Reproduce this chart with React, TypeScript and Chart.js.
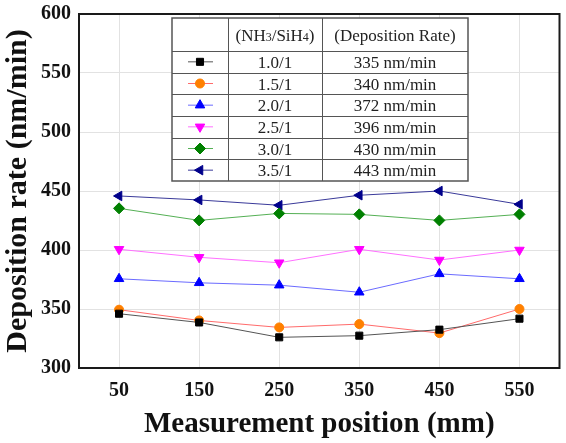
import React, { useEffect, useRef } from 'react';
import { Chart, registerables } from 'chart.js';
import { drawPoint } from 'chart.js/helpers';

Chart.register(...registerables);

const positions = [50, 150, 250, 350, 450, 550];
const xTickValues = [50, 150, 250, 350, 450, 550];
const ratioLabels = ['1.0/1', '1.5/1', '2.0/1', '2.5/1', '3.0/1', '3.5/1'];
const rateLabels = ['335 nm/min', '340 nm/min', '372 nm/min', '396 nm/min', '430 nm/min', '443 nm/min'];

const rate10 = [346, 338.6, 326, 327.4, 332.5, 341.8];
const rate15 = [349.4, 340.3, 334.4, 337.2, 329.6, 350];
const rate20 = [375.6, 372.2, 370.2, 364.2, 379.8, 375.6];
const rate25 = [400.6, 393.8, 389.2, 400.6, 391.5, 400];
const rate30 = [435.3, 425.1, 431, 430.2, 425.1, 430.2];
const rate35 = [445.8, 442.4, 437.9, 446.4, 450, 438.7];

const seriesValues = [rate10, rate15, rate20, rate25, rate30, rate35];

const seriesStyles = [
  { line: '#555555', marker: '#000000', style: 'rect', rotation: 0, radius: 5 },
  { line: '#ff6b6b', marker: '#ff8000', style: 'circle', rotation: 0, radius: 4.5 },
  { line: '#6b6bff', marker: '#0000ff', style: 'triangle', rotation: 0, radius: 5.5 },
  { line: '#ff70ff', marker: '#ff00ff', style: 'triangle', rotation: 180, radius: 5.5 },
  { line: '#55b055', marker: '#008000', style: 'rectRot', rotation: 0, radius: 5.5 },
  { line: '#3a3a9a', marker: '#00008b', style: 'triangle', rotation: -90, radius: 5.5 },
];

const SERIF = "'Liberation Serif', 'Times New Roman', serif";

const framePlugin = {
  id: 'frame',
  beforeDraw(chart: any) {
    const ctx = chart.ctx;
    ctx.save();
    ctx.fillStyle = '#ffffff';
    ctx.fillRect(0, 0, chart.width, chart.height);
    ctx.restore();
  },
  afterDraw(chart: any) {
    const ctx = chart.ctx;
    const a = chart.chartArea;
    ctx.save();
    ctx.strokeStyle = '#1a1a1a';
    ctx.lineWidth = 2;
    ctx.strokeRect(a.left, a.top, a.right - a.left, a.bottom - a.top);

    // legend table
    const x0 = 172, x1 = 228, x2 = 322, x3 = 468;
    const y0 = 18, yh = 51, y3 = 181;
    const n = ratioLabels.length;
    const rh = (y3 - yh) / n;
    ctx.fillStyle = '#ffffff';
    ctx.fillRect(x0, y0, x3 - x0, y3 - y0);
    ctx.strokeStyle = '#555555';
    ctx.lineWidth = 1;
    ctx.beginPath();
    [x1, x2].forEach((x) => {
      ctx.moveTo(x + 0.5, y0);
      ctx.lineTo(x + 0.5, y3);
    });
    for (let i = 0; i <= n - 1; i++) {
      const y = Math.round(yh + i * rh) + 0.5;
      ctx.moveTo(x0, y);
      ctx.lineTo(x3, y);
    }
    ctx.stroke();
    ctx.lineWidth = 1.5;
    ctx.strokeRect(x0, y0, x3 - x0, y3 - y0);

    ctx.fillStyle = '#222222';
    ctx.textBaseline = 'alphabetic';
    const big = `17px ${SERIF}`;
    const small = `12px ${SERIF}`;
    const parts: [string, string][] = [['(NH', big], ['3', small], ['/SiH', big], ['4', small], [')', big]];
    let total = 0;
    parts.forEach(([t, f]) => { ctx.font = f; total += ctx.measureText(t).width; });
    let cx = (x1 + x2) / 2 - total / 2;
    const hb = y0 + (yh - y0) / 2 + 6;
    ctx.textAlign = 'left';
    parts.forEach(([t, f]) => {
      ctx.font = f;
      ctx.fillText(t, cx, hb);
      cx += ctx.measureText(t).width;
    });
    ctx.font = big;
    ctx.textAlign = 'center';
    ctx.fillText('(Deposition Rate)', (x2 + x3) / 2, hb);

    for (let i = 0; i < n; i++) {
      const cy = yh + (i + 0.5) * rh;
      const st = seriesStyles[i];
      ctx.strokeStyle = st.line;
      ctx.lineWidth = 1;
      ctx.beginPath();
      ctx.moveTo(188, cy);
      ctx.lineTo(213, cy);
      ctx.stroke();
      ctx.fillStyle = st.marker;
      ctx.strokeStyle = st.marker;
      drawPoint(ctx, { pointStyle: st.style as any, rotation: st.rotation, radius: st.radius, borderWidth: 1 }, 200, cy);
      ctx.fillStyle = '#222222';
      ctx.font = big;
      ctx.textAlign = 'center';
      ctx.fillText(ratioLabels[i], (x1 + x2) / 2, cy + 6);
      ctx.fillText(rateLabels[i], (x2 + x3) / 2, cy + 6);
    }
    ctx.restore();
  },
};

export default function App() {
  const ref = useRef<HTMLCanvasElement | null>(null);
  useEffect(() => {
    if (!ref.current) return;
    const chart = new Chart(ref.current, {
      type: 'line',
      data: {
        datasets: seriesValues.map((vals, i) => ({
          label: ratioLabels[i],
          data: positions.map((p, j) => ({ x: p, y: vals[j] })),
          borderColor: seriesStyles[i].line,
          borderWidth: 1,
          backgroundColor: seriesStyles[i].marker,
          pointBackgroundColor: seriesStyles[i].marker,
          pointBorderColor: seriesStyles[i].marker,
          pointBorderWidth: 1,
          pointStyle: seriesStyles[i].style as any,
          pointRotation: seriesStyles[i].rotation,
          pointRadius: seriesStyles[i].radius,
          tension: 0,
        })),
      },
      options: {
        animation: false,
        responsive: false,
        layout: { padding: { left: 0, top: 14, right: 3, bottom: 0 } },
        plugins: { legend: { display: false }, tooltip: { enabled: false } },
        scales: {
          x: {
            type: 'linear',
            min: 0,
            max: 600,
            afterBuildTicks: (scale: any) => {
              scale.ticks = xTickValues.map((v) => ({ value: v }));
            },
            afterFit: (scale: any) => {
              scale.height = 75;
              scale.paddingLeft = 0;
              scale.paddingRight = 0;
            },
            grid: { color: '#e2e2e2', drawTicks: false, tickLength: 0 },
            border: { display: false },
            ticks: {
              padding: 11,
              color: '#111111',
              font: { family: SERIF, size: 20, weight: 'bold' },
              maxRotation: 0,
              autoSkip: false,
            },
            title: {
              display: true,
              text: 'Measurement position (mm)',
              color: '#111111',
              font: { family: SERIF, size: 29, weight: 'bold' },
              padding: { top: 0, bottom: 1 },
            },
          },
          y: {
            type: 'linear',
            min: 300,
            max: 600,
            afterFit: (scale: any) => {
              scale.width = 79;
              scale.paddingTop = 0;
              scale.paddingBottom = 0;
            },
            grid: { color: '#e2e2e2', drawTicks: false, tickLength: 0 },
            border: { display: false },
            ticks: {
              stepSize: 50,
              padding: 8,
              color: '#111111',
              font: { family: SERIF, size: 20, weight: 'bold' },
            },
            title: {
              display: true,
              text: 'Deposition rate (nm/min)',
              color: '#111111',
              font: { family: SERIF, size: 30, weight: 'bold' },
              padding: { top: 0, bottom: 0 },
            },
          },
        },
      },
      plugins: [framePlugin],
    });
    return () => chart.destroy();
  }, []);
  return (
    <div style={{ position: 'fixed', left: 0, top: 0, width: 566, height: 443, background: '#fff' }}>
      <canvas ref={ref} width={566} height={443} style={{ display: 'block' }} />
    </div>
  );
}
